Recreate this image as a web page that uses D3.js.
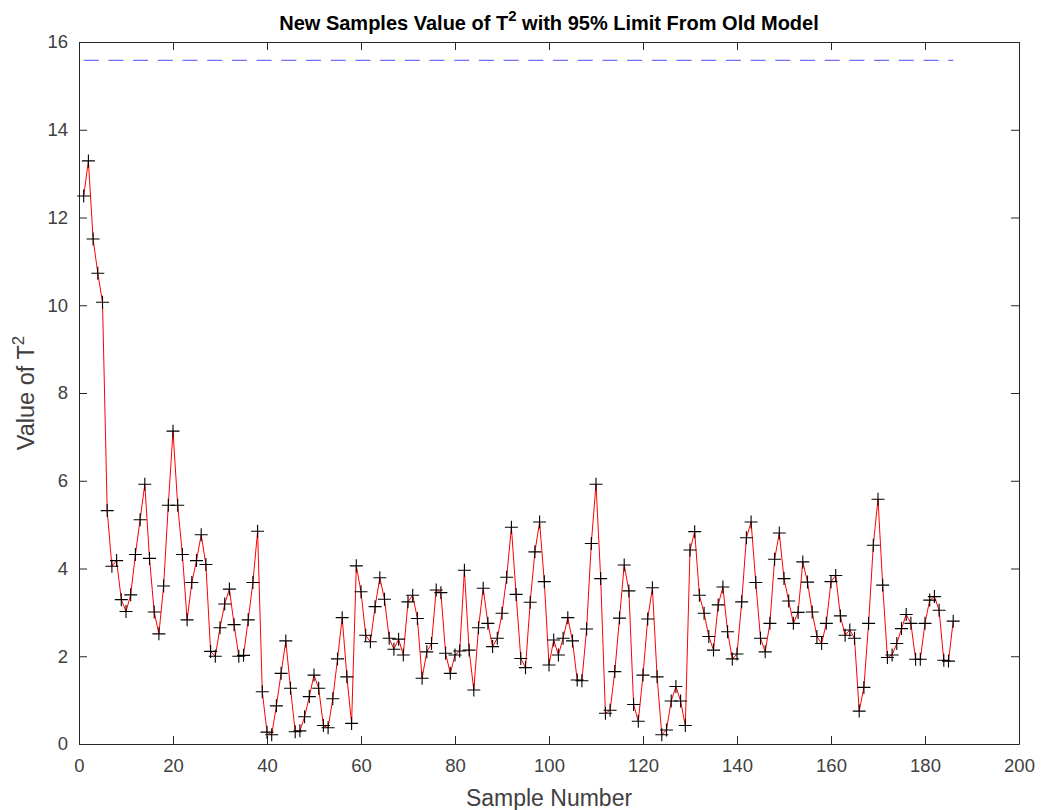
<!DOCTYPE html>
<html>
<head>
<meta charset="UTF-8">
<style>
  body { margin: 0; background: #fff; }
  text { font-family: "Liberation Sans", Arial, sans-serif; }
</style>
</head>
<body>
<svg id="chart"></svg>
<script src="https://d3js.org/d3.v7.min.js"></script>
<script>
// T^2 values of the new samples, sample number 1..186
const t2Values = [
  12.49, 13.29, 11.51, 10.73, 10.07, 5.32, 4.05, 4.18, 3.29, 3.02,
  3.40, 4.32, 5.11, 5.92, 4.23, 3.01, 2.51, 3.60, 5.44, 7.13,
  5.44, 4.32, 2.83, 3.68, 4.18, 4.77, 4.09, 2.11, 2.00, 2.65,
  3.19, 3.53, 2.72, 2.00, 2.02, 2.83, 3.68, 4.85, 1.19, 0.27,
  0.21, 0.87, 1.61, 2.35, 1.27, 0.28, 0.30, 0.62, 1.08, 1.57,
  1.27, 0.42, 0.37, 1.03, 1.94, 2.88, 1.53, 0.47, 4.06, 3.47,
  2.48, 2.33, 3.13, 3.79, 3.30, 2.41, 2.16, 2.39, 2.03, 3.24,
  3.39, 2.86, 1.50, 2.10, 2.29, 3.51, 3.45, 2.07, 1.61, 2.03,
  2.12, 3.96, 2.14, 1.23, 2.65, 3.55, 2.75, 2.22, 2.41, 2.98,
  3.80, 4.94, 3.41, 1.95, 1.74, 3.23, 4.38, 5.06, 3.70, 1.80,
  2.37, 2.03, 2.41, 2.88, 2.35, 1.46, 1.44, 2.62, 4.57, 5.92,
  3.77, 0.70, 0.77, 1.65, 2.87, 4.08, 3.49, 0.90, 0.52, 1.57,
  2.85, 3.56, 1.53, 0.21, 0.32, 0.98, 1.31, 0.98, 0.42, 4.42,
  4.84, 3.39, 2.98, 2.45, 2.14, 3.17, 3.58, 2.56, 1.94, 2.05,
  3.24, 4.70, 5.06, 3.68, 2.41, 2.10, 2.75, 4.21, 4.81, 3.77,
  3.26, 2.75, 3.00, 4.15, 3.69, 3.01, 2.45, 2.29, 2.75, 3.70,
  3.84, 2.92, 2.48, 2.60, 2.41, 0.75, 1.29, 2.75, 4.53, 5.58,
  3.62, 1.97, 2.03, 2.29, 2.63, 2.95, 2.75, 1.93, 1.93, 2.75,
  3.28, 3.36, 3.05, 1.91, 1.89, 2.80
];
const limit95 = 15.58;
const xTicks = [0, 20, 40, 60, 80, 100, 120, 140, 160, 180, 200];
const yTicks = [0, 2, 4, 6, 8, 10, 12, 14, 16];

const width = 1041, height = 810;
const margin = { top: 42, right: 22, bottom: 66, left: 79 };
const axisColor = "#262626";
const labelColor = "#404040";
const tickLen = 8;

const svg = d3.select("#chart")
  .attr("width", width)
  .attr("height", height);

const x = d3.scaleLinear().domain([0, 200]).range([margin.left, width - margin.right]);
const y = d3.scaleLinear().domain([0, 16]).range([height - margin.bottom, margin.top]);

const data = t2Values.map((v, i) => ({ n: i + 1, v: v }));

// axes (ticks pointing inward, box on all four sides)
function styleAxis(g) {
  g.select(".domain").attr("stroke", axisColor).attr("stroke-width", 1);
  g.selectAll(".tick line").attr("stroke", axisColor);
  g.selectAll(".tick text")
    .attr("fill", labelColor)
    .style("font-size", "18.5px")
    .style("font-family", '"Liberation Sans", Arial, sans-serif');
}

svg.append("g")
  .attr("transform", `translate(0,${y(0)})`)
  .call(d3.axisBottom(x).tickValues(xTicks).tickSizeInner(-tickLen).tickSizeOuter(0).tickPadding(15))
  .call(styleAxis);

svg.append("g")
  .attr("transform", `translate(0,${y(16)})`)
  .call(d3.axisTop(x).tickValues(xTicks).tickSizeInner(-tickLen).tickSizeOuter(0).tickFormat(""))
  .call(styleAxis);

svg.append("g")
  .attr("transform", `translate(${x(0)},0)`)
  .call(d3.axisLeft(y).tickValues(yTicks).tickSizeInner(-tickLen).tickSizeOuter(0).tickPadding(11))
  .call(styleAxis);

svg.append("g")
  .attr("transform", `translate(${x(200)},0)`)
  .call(d3.axisRight(y).tickValues(yTicks).tickSizeInner(-tickLen).tickSizeOuter(0).tickFormat(""))
  .call(styleAxis);

// 95% limit
svg.append("line")
  .attr("x1", x(1)).attr("x2", x(186))
  .attr("y1", y(limit95)).attr("y2", y(limit95))
  .attr("stroke", "#7070ff")
  .attr("stroke-width", 1.3)
  .attr("stroke-dasharray", "15,9.7");

// red line
svg.append("path")
  .datum(data)
  .attr("fill", "none")
  .attr("stroke", "#ff0000")
  .attr("stroke-width", 1)
  .attr("d", d3.line().x(d => x(d.n)).y(d => y(d.v)));

// + markers
const s = 6.5;
svg.append("g")
  .selectAll("path")
  .data(data)
  .enter()
  .append("path")
  .attr("d", d => {
    const cx = x(d.n), cy = y(d.v);
    return `M${cx - s},${cy}H${cx + s}M${cx},${cy - s}V${cy + s}`;
  })
  .attr("stroke", "#000")
  .attr("stroke-width", 1.1)
  .attr("fill", "none");

// title
const title = svg.append("text")
  .attr("x", (x(0) + x(200)) / 2)
  .attr("y", 30)
  .attr("text-anchor", "middle")
  .attr("fill", "#000")
  .style("font-size", "20px")
  .style("font-weight", "bold");
title.append("tspan").text("New Samples Value of T");
title.append("tspan").attr("dy", -9).style("font-size", "15px").text("2");
title.append("tspan").attr("dy", 9).text(" with 95% Limit From Old Model");

// x label
svg.append("text")
  .attr("x", (x(0) + x(200)) / 2)
  .attr("y", 806)
  .attr("text-anchor", "middle")
  .attr("fill", labelColor)
  .style("font-size", "23px")
  .text("Sample Number");

// y label
const yl = svg.append("text")
  .attr("transform", `translate(34,${(y(0) + y(16)) / 2}) rotate(-90)`)
  .attr("text-anchor", "middle")
  .attr("fill", labelColor)
  .style("font-size", "23.5px");
yl.append("tspan").text("Value of T");
yl.append("tspan").attr("dy", -10).style("font-size", "17px").text("2");
</script>
</body>
</html>
